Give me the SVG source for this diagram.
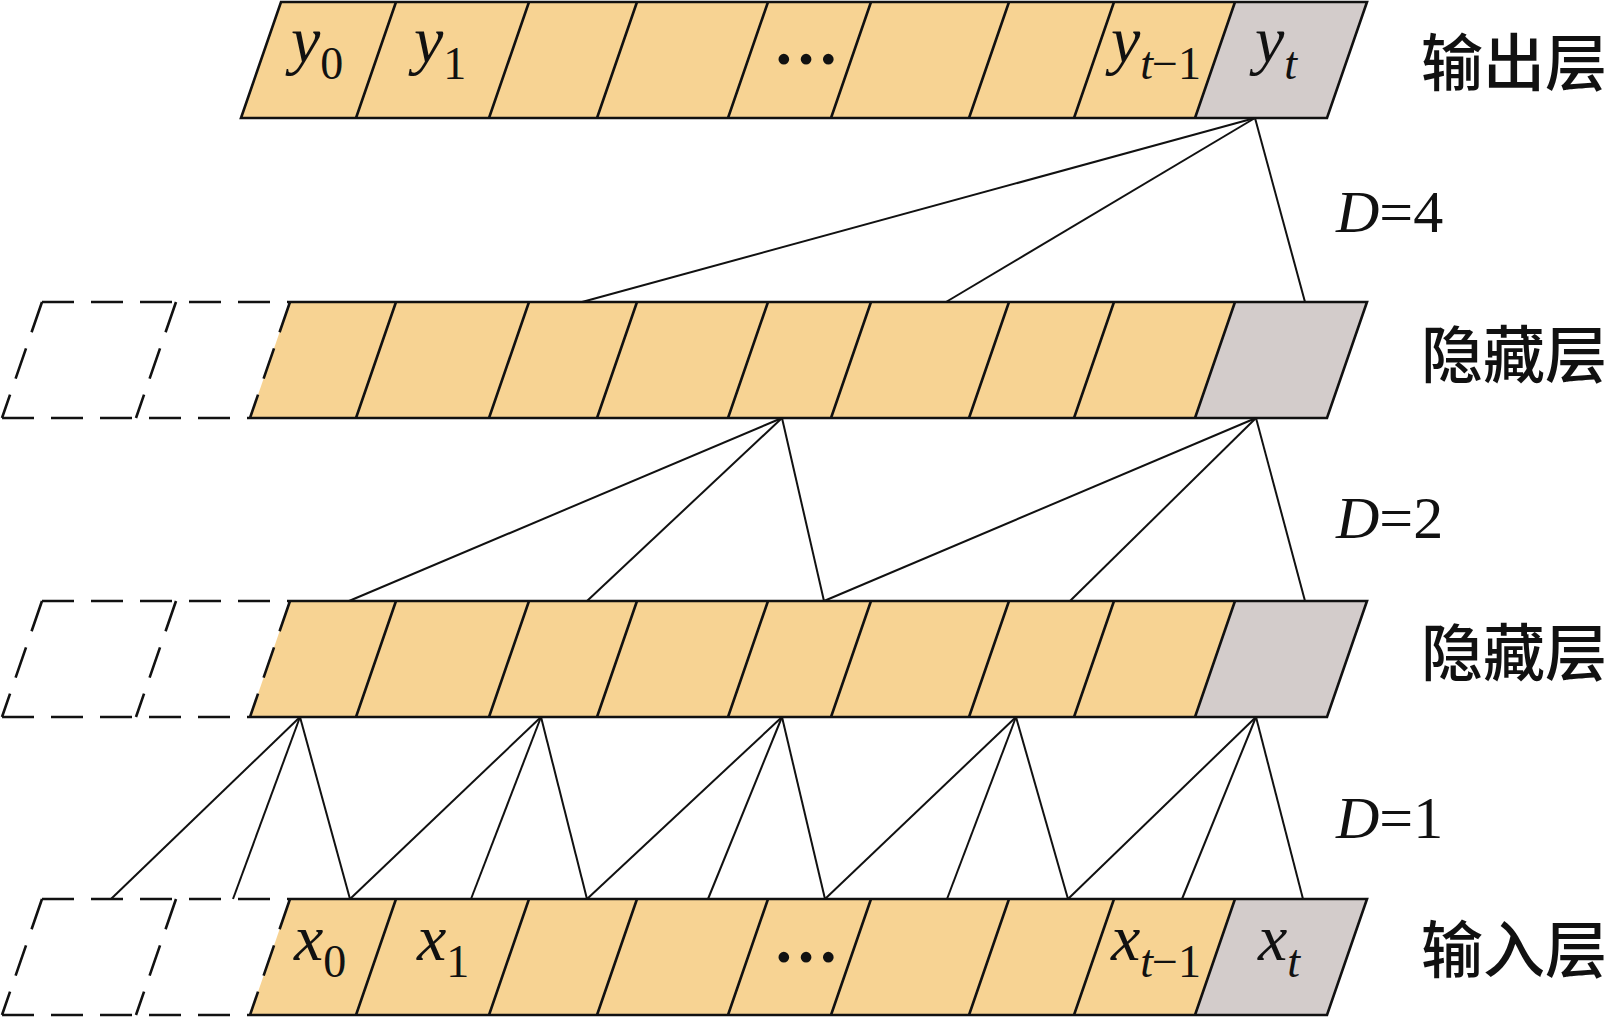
<svg xmlns="http://www.w3.org/2000/svg" width="1609" height="1019" viewBox="0 0 1609 1019">
<style>
.or{fill:#F7D393;stroke:none}
.gr{fill:#D3CCCB;stroke:none}
.ol{fill:none;stroke:#111;stroke-width:2.6;stroke-linejoin:miter}
.dv{stroke:#111;stroke-width:2.6;fill:none}
.ds{stroke:#111;stroke-width:2.6;fill:none;stroke-dasharray:32 17}
.cn line{stroke:#111;stroke-width:2}
.v{font-family:"Liberation Serif","Times New Roman",serif;font-size:60px;fill:#111}
.m{font-size:66px}
.i{font-style:italic}
.s{font-size:46px}
.el{font-size:66px;font-weight:bold}
.cjk{font-family:"Noto Sans CJK SC","Noto Sans CJK JP",sans-serif;font-size:62px;font-weight:500;fill:#111}
</style>
<rect width="1609" height="1019" fill="#fff"/>

<g id="output-layer">
<polygon class="or" points="281,2 1235,2 1195,118 241,118"/>
<polygon class="gr" points="1235,2 1367,2 1327,118 1195,118"/>
<path class="dv" d="M396,2L356,118M529,2L489,118M637,2L597,118M768,2L728,118M871,2L831,118M1009,2L969,118M1114,2L1074,118M1235,2L1195,118"/>
<polygon class="ol" points="281,2 1367,2 1327,118 241,118"/>
<text class="v m" x="291" y="62"><tspan class="i">y</tspan><tspan class="s" dy="17">0</tspan></text>
<text class="v m" x="414" y="62"><tspan class="i">y</tspan><tspan class="s" dy="17">1</tspan></text>
<text class="v el" x="806" y="64" text-anchor="middle">…</text>
<text class="v m" x="1111" y="62"><tspan class="i">y</tspan><tspan class="s i" dy="17">t</tspan><tspan class="s" dx="-1">−1</tspan></text>
<text class="v m" x="1255" y="62"><tspan class="i">y</tspan><tspan class="s i" dy="17">t</tspan></text>
</g>

<g id="hidden-layer-1">
<polygon class="or" points="290,302 1235,302 1195,418 250,418"/>
<polygon class="gr" points="1235,302 1367,302 1327,418 1195,418"/>
<path class="dv" d="M396,302L356,418M529,302L489,418M637,302L597,418M768,302L728,418M871,302L831,418M1009,302L969,418M1114,302L1074,418M1235,302L1195,418"/>
<path class="ol" d="M290,302L1367,302L1327,418L250,418"/>
<path class="ds" d="M42,302L290,302M2,418L250,418M42,302L2,418M176,302L136,418M290,302L250,418"/>
</g>

<g id="hidden-layer-2">
<polygon class="or" points="290,601 1235,601 1195,717 250,717"/>
<polygon class="gr" points="1235,601 1367,601 1327,717 1195,717"/>
<path class="dv" d="M396,601L356,717M529,601L489,717M637,601L597,717M768,601L728,717M871,601L831,717M1009,601L969,717M1114,601L1074,717M1235,601L1195,717"/>
<path class="ol" d="M290,601L1367,601L1327,717L250,717"/>
<path class="ds" d="M42,601L290,601M2,717L250,717M42,601L2,717M176,601L136,717M290,601L250,717"/>
</g>

<g id="input-layer">
<polygon class="or" points="290,899 1235,899 1195,1015 250,1015"/>
<polygon class="gr" points="1235,899 1367,899 1327,1015 1195,1015"/>
<path class="dv" d="M396,899L356,1015M529,899L489,1015M637,899L597,1015M768,899L728,1015M871,899L831,1015M1009,899L969,1015M1114,899L1074,1015M1235,899L1195,1015"/>
<path class="ol" d="M290,899L1367,899L1327,1015L250,1015"/>
<path class="ds" d="M42,899L290,899M2,1015L250,1015M42,899L2,1015M176,899L136,1015M290,899L250,1015"/>
<text class="v m" x="294" y="960"><tspan class="i">x</tspan><tspan class="s" dy="17">0</tspan></text>
<text class="v m" x="417" y="960"><tspan class="i">x</tspan><tspan class="s" dy="17">1</tspan></text>
<text class="v el" x="806" y="962" text-anchor="middle">…</text>
<text class="v m" x="1111" y="960"><tspan class="i">x</tspan><tspan class="s i" dy="17">t</tspan><tspan class="s" dx="-1">−1</tspan></text>
<text class="v m" x="1258" y="960"><tspan class="i">x</tspan><tspan class="s i" dy="17">t</tspan></text>
</g>

<g id="connectors" class="cn">
<line x1="1255" y1="118" x2="582" y2="302"/>
<line x1="1255" y1="118" x2="946" y2="302"/>
<line x1="1255" y1="118" x2="1305" y2="302"/>
<line x1="782" y1="418" x2="349" y2="601"/>
<line x1="782" y1="418" x2="587" y2="601"/>
<line x1="782" y1="418" x2="824" y2="601"/>
<line x1="1256" y1="418" x2="824" y2="601"/>
<line x1="1256" y1="418" x2="1070" y2="601"/>
<line x1="1256" y1="418" x2="1305" y2="601"/>
<line x1="300" y1="717" x2="111" y2="899"/>
<line x1="300" y1="717" x2="233" y2="899"/>
<line x1="300" y1="717" x2="350" y2="899"/>
<line x1="541" y1="717" x2="350" y2="899"/>
<line x1="541" y1="717" x2="471" y2="899"/>
<line x1="541" y1="717" x2="587" y2="899"/>
<line x1="782" y1="717" x2="587" y2="899"/>
<line x1="782" y1="717" x2="708" y2="899"/>
<line x1="782" y1="717" x2="825" y2="899"/>
<line x1="1016" y1="717" x2="825" y2="899"/>
<line x1="1016" y1="717" x2="947" y2="899"/>
<line x1="1016" y1="717" x2="1068" y2="899"/>
<line x1="1256" y1="717" x2="1068" y2="899"/>
<line x1="1256" y1="717" x2="1182" y2="899"/>
<line x1="1256" y1="717" x2="1303" y2="899"/>
</g>

<g id="labels">
<text class="cjk" x="1421" y="86">输出层</text>
<text class="cjk" x="1421" y="378">隐藏层</text>
<text class="cjk" x="1421" y="676">隐藏层</text>
<text class="cjk" x="1421" y="973">输入层</text>
<text class="v" x="1336" y="232"><tspan class="i">D</tspan>=4</text>
<text class="v" x="1336" y="538"><tspan class="i">D</tspan>=2</text>
<text class="v" x="1336" y="838"><tspan class="i">D</tspan>=1</text>
</g>
</svg>
